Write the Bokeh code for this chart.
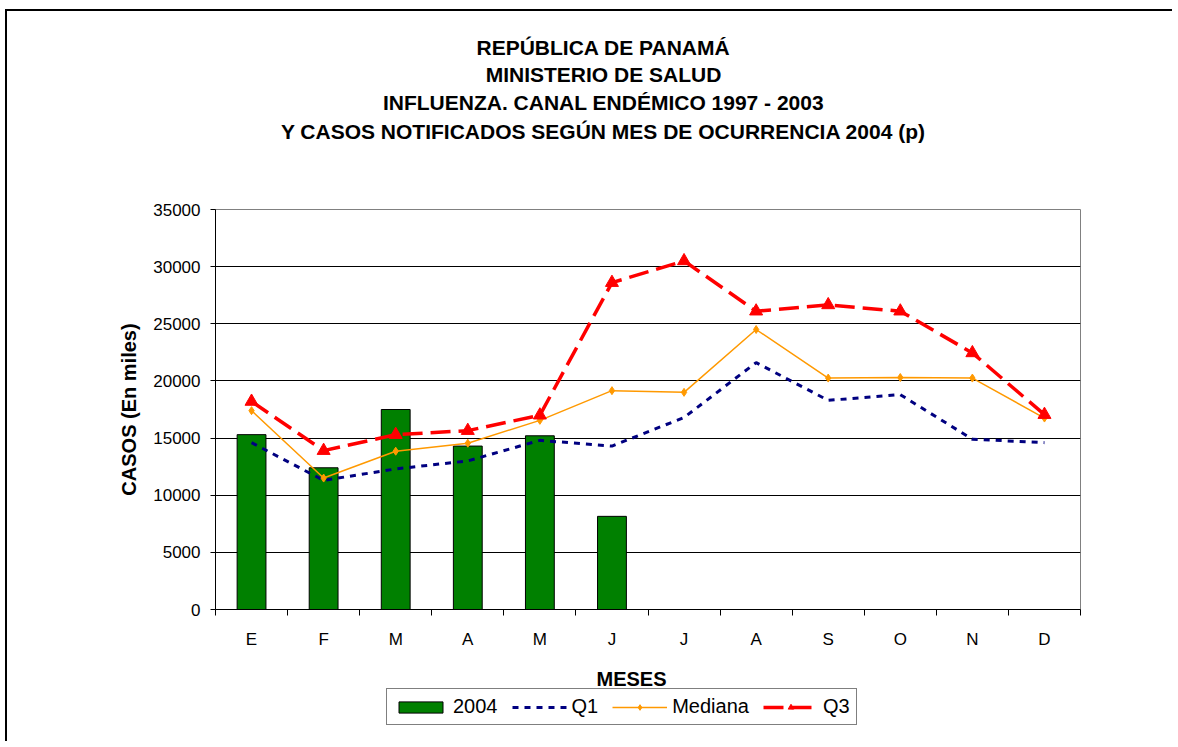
from bokeh.plotting import figure
from bokeh.layouts import column
from bokeh.models import (ColumnDataSource, FixedTicker, Legend, LegendItem, Range1d)
from bokeh.core.properties import value
from bokeh.embed import file_html
from bokeh.resources import INLINE

# ---------------- data ----------------
months = ["E", "F", "M", "A", "M", "J", "J", "A", "S", "O", "N", "D"]
casos_2004 = [15300, 12400, 17500, 14300, 15200, 8150]
q1 = [14600, 11300, 12300, 13000, 14800, 14300, 16800, 21600, 18300, 18800, 14900, 14600]
mediana = [17400, 11500, 13850, 14550, 16550, 19150, 19000, 24500, 20250, 20300, 20250, 16750]
q3 = [18200, 13900, 15300, 15650, 17000, 28600, 30500, 26100, 26650, 26100, 22450, 17050]
y_ticks = [0, 5000, 10000, 15000, 20000, 25000, 30000, 35000]
title_lines = ["REPÚBLICA DE PANAMÁ",
               "MINISTERIO DE SALUD",
               "INFLUENZA. CANAL ENDÉMICO 1997 - 2003",
               "Y CASOS NOTIFICADOS SEGÚN MES DE OCURRENCIA 2004 (p)"]
x_title = "MESES"
y_title = "CASOS (En miles)"

FONT = "Liberation Sans"
x_pos = list(range(1, len(months) + 1))

# canvas origin on the page (after margin + border)
OX, OY = 7, 11
W = 1165
# frame placement (page pixels)
FL, FR, FT, FB = 215, 1080, 209, 609
H_TOP = 150
TOP_END = OY + H_TOP            # page y where the main figure starts
MAIN_BOTTOM = 45
H_MAIN = (FT - TOP_END) + (FB - FT) + MAIN_BOTTOM
BOT_START = FB + MAIN_BOTTOM
H_BOT = 87

# ---------------- title figure (page-pixel coordinates) ----------------
pt = figure(width=W, height=H_TOP, output_backend="svg", toolbar_location=None,
            x_range=Range1d(FL, FR), y_range=Range1d(TOP_END, OY),
            x_axis_location=None, y_axis_location=None,
            min_border=0, outline_line_color=None)
pt.grid.visible = False
title_y = [47, 74, 102, 131]
pt.text(x=[603] * len(title_lines), y=title_y, text=title_lines,
        text_align="center", text_baseline="middle", text_font=value(FONT),
        text_font_size=value("21px"), text_font_style="bold", text_color="black")

# ---------------- main figure ----------------
p = figure(width=W, height=H_MAIN, output_backend="svg", toolbar_location=None,
           x_range=Range1d(0.5, 12.5), y_range=Range1d(0, 35000),
           min_border_left=FL - OX, min_border_right=W - (FR - OX),
           min_border_top=FT - TOP_END, min_border_bottom=MAIN_BOTTOM)
p.background_fill_color = "white"
p.border_fill_color = "white"
p.outline_line_color = "#808080"
p.outline_line_width = 1

p.xaxis.ticker = FixedTicker(ticks=x_pos, minor_ticks=[i + 0.5 for i in range(0, 13)])
p.xaxis.major_label_overrides = {i + 1: m for i, m in enumerate(months)}
p.xaxis.major_tick_line_color = None
p.xaxis.minor_tick_line_color = "black"
p.xaxis.minor_tick_out = 6
p.xaxis.minor_tick_in = 0
p.xaxis.major_label_standoff = 14
p.xaxis.axis_line_color = "black"
p.xaxis.major_label_text_font = FONT
p.xaxis.major_label_text_font_size = "17px"
p.xaxis.major_label_text_color = "black"

p.yaxis.ticker = FixedTicker(ticks=y_ticks)
p.yaxis.minor_tick_line_color = None
p.yaxis.major_tick_out = 5
p.yaxis.major_tick_in = 0
p.yaxis.major_tick_line_color = "black"
p.yaxis.axis_line_color = "black"
p.yaxis.major_label_standoff = 10
p.yaxis.major_label_text_font = FONT
p.yaxis.major_label_text_font_size = "17px"
p.yaxis.major_label_text_color = "black"
p.yaxis.axis_label = y_title
p.yaxis.axis_label_text_font = FONT
p.yaxis.axis_label_text_font_size = "20px"
p.yaxis.axis_label_text_font_style = "bold"
p.yaxis.axis_label_text_color = "black"
p.yaxis.axis_label_standoff = 10

p.xgrid.grid_line_color = None
p.ygrid.ticker = FixedTicker(ticks=y_ticks[1:])
p.ygrid.grid_line_color = "black"
p.ygrid.grid_line_width = 1

BAR = dict(fill_color="#008000", line_color="black", line_width=1)
Q1S = dict(line_color="#000080", line_width=3, line_dash="6 6")
MEDL = dict(line_color="#FF9900", line_width=1.5)
MEDM = dict(marker="diamond", size=8, fill_color="#FF9900", line_color="#FF9900")
Q3L = dict(line_color="#FF0000", line_width=3.5, line_dash="20 8")
Q3M = dict(marker="triangle", size=13, fill_color="#FF0000", line_color="#FF0000")

src_bar = ColumnDataSource(dict(x=x_pos[:len(casos_2004)], y=casos_2004))
p.vbar(x="x", top="y", width=0.4, source=src_bar, **BAR)
src = ColumnDataSource(dict(x=x_pos, q1=q1, med=mediana, q3=q3))
p.line("x", "q1", source=src, **Q1S)
p.line("x", "med", source=src, **MEDL)
p.scatter("x", "med", source=src, **MEDM)
p.line("x", "q3", source=src, **Q3L)
p.scatter("x", "q3", source=src, **Q3M)

# ---------------- bottom figure: axis title + legend (page-pixel coords) ----------------
pb = figure(width=W, height=H_BOT, output_backend="svg", toolbar_location=None,
            x_range=Range1d(FL, FR), y_range=Range1d(BOT_START + H_BOT, BOT_START),
            x_axis_location=None, y_axis_location=None,
            min_border=0, outline_line_color=None)
pb.grid.visible = False
pb.text(x=[631], y=[678], text=[x_title], text_align="center",
        text_baseline="middle", text_font=value(FONT), text_font_size=value("20px"),
        text_font_style="bold", text_color="black")

# legend-only renderers (a single NaN point: nothing drawn in the plot area)
nan = float("nan")
def proxy():
    return ColumnDataSource(dict(x=[nan], y=[nan]))
r_bar = pb.vbar(x="x", top="y", width=1, source=proxy(), **BAR)
r_q1 = pb.line("x", "y", source=proxy(), **Q1S)
r_medl = pb.line("x", "y", source=proxy(), **MEDL)
r_medm = pb.scatter("x", "y", source=proxy(), **MEDM)
r_q3l = pb.line("x", "y", source=proxy(), **Q3L)
r_q3m = pb.scatter("x", "y", source=proxy(), **Q3M)

legend = Legend(items=[LegendItem(label="2004", renderers=[r_bar]),
                       LegendItem(label="Q1", renderers=[r_q1]),
                       LegendItem(label="Mediana", renderers=[r_medl, r_medm]),
                       LegendItem(label="Q3", renderers=[r_q3l, r_q3m])],
                orientation="horizontal",
                location=(386 - FL, (BOT_START + H_BOT) - 725))
legend.glyph_width = 55
legend.glyph_height = 14
legend.label_standoff = 5
legend.spacing = 14
legend.padding = 6
legend.margin = 0
legend.label_height = 20
legend.label_text_font = FONT
legend.label_text_font_size = "20px"
legend.label_text_color = "black"
legend.border_line_color = "black"
legend.border_line_width = 1
legend.background_fill_alpha = 1
pb.add_layout(legend, "center")

layout = column(pt, p, pb, spacing=0)
layout.styles = {"margin-left": "5px", "margin-top": "9px",
                 "border-top": "2px solid black", "border-left": "2px solid black"}

open("out.html", "w").write(file_html(layout, INLINE))
